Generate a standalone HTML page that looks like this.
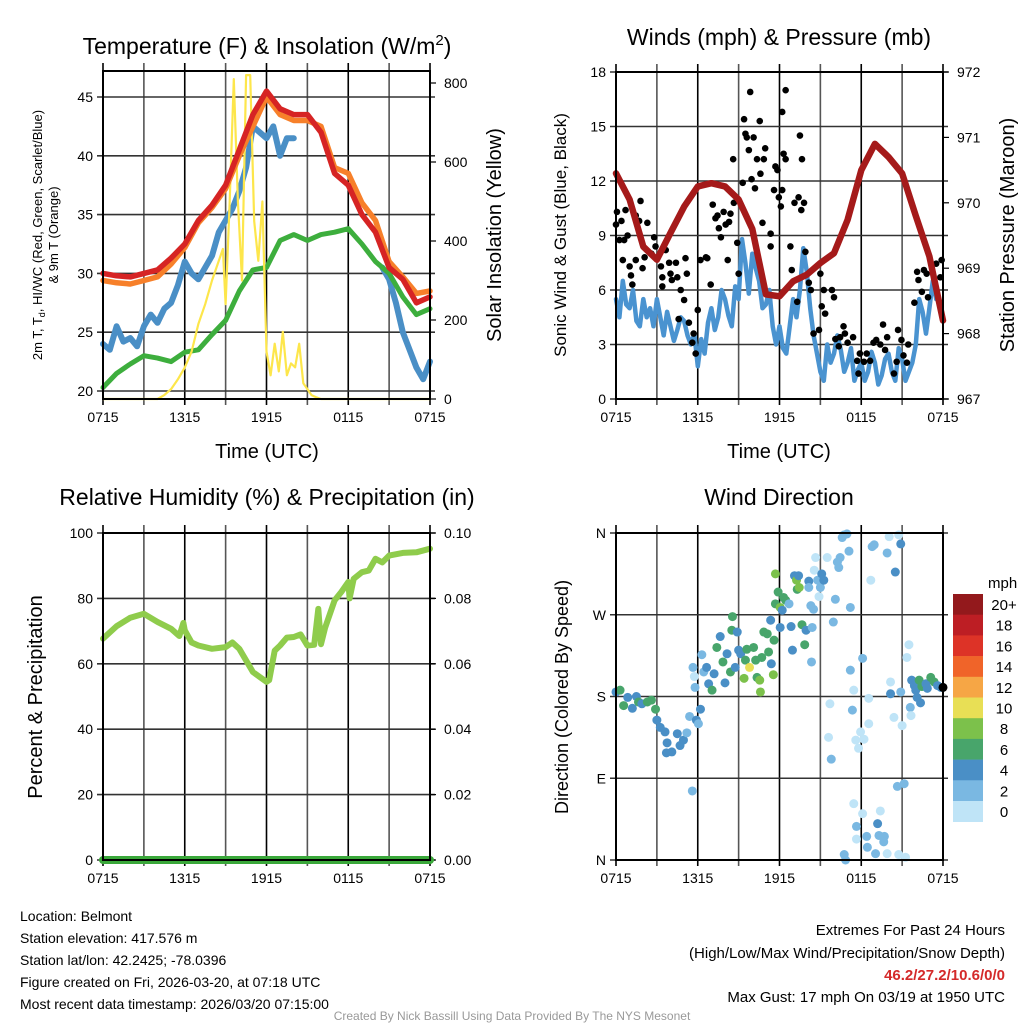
<!DOCTYPE html>
<html><head><meta charset="utf-8">
<style>
html,body{margin:0;padding:0;background:#fff;}
svg{display:block;font-family:"Liberation Sans",sans-serif;}
</style></head>
<body>
<svg id="svg" xmlns="http://www.w3.org/2000/svg" width="1024" height="1024" viewBox="0 0 1024 1024">
<rect width="1024" height="1024" fill="#fff"/>
<text x="267" y="54" font-size="23" text-anchor="middle">Temperature (F) &amp; Insolation (W/m<tspan dy="-9" font-size="15">2</tspan><tspan dy="9">)</tspan></text>
<text x="779" y="45" font-size="23" text-anchor="middle">Winds (mph) &amp; Pressure (mb)</text>
<text x="267" y="505" font-size="23" text-anchor="middle">Relative Humidity (%) &amp; Precipitation (in)</text>
<text x="779" y="505" font-size="23" text-anchor="middle">Wind Direction</text>

<text transform="translate(42,235) rotate(-90)" font-size="13" text-anchor="middle">2m T, T<tspan font-size="9" dy="3">d</tspan><tspan dy="-3">, HI/WC (Red, Green, Scarlet/Blue)</tspan></text>
<text transform="translate(58,235) rotate(-90)" font-size="13" text-anchor="middle">&amp; 9m T (Orange)</text>
<text transform="translate(501,235) rotate(-90)" font-size="20" text-anchor="middle">Solar Insolation (Yellow)</text>
<text x="267" y="458" font-size="20" text-anchor="middle">Time (UTC)</text>
<text x="779" y="458" font-size="20" text-anchor="middle">Time (UTC)</text>
<text transform="translate(566,235) rotate(-90)" font-size="17" text-anchor="middle">Sonic Wind &amp; Gust (Blue, Black)</text>
<text transform="translate(1014,235) rotate(-90)" font-size="20" text-anchor="middle">Station Pressure (Maroon)</text>
<text transform="translate(42,697) rotate(-90)" font-size="20" text-anchor="middle">Percent &amp; Precipitation</text>
<text transform="translate(568,697) rotate(-90)" font-size="18" text-anchor="middle">Direction (Colored By Speed)</text>

<g font-size="14">
<text x="20" y="921">Location: Belmont</text>
<text x="20" y="943">Station elevation: 417.576 m</text>
<text x="20" y="965">Station lat/lon: 42.2425; -78.0396</text>
<text x="20" y="987">Figure created on Fri, 2026-03-20, at 07:18 UTC</text>
<text x="20" y="1009">Most recent data timestamp: 2026/03/20 07:15:00</text>
</g>
<g font-size="15" text-anchor="end">
<text x="1005" y="935">Extremes For Past 24 Hours</text>
<text x="1005" y="958">(High/Low/Max Wind/Precipitation/Snow Depth)</text>
<text x="1005" y="980" font-weight="bold" fill="#d42a2a">46.2/27.2/10.6/0/0</text>
<text x="1005" y="1002">Max Gust: 17 mph On 03/19 at 1950 UTC</text>
</g>
<text x="512" y="1020" font-size="12" fill="#999" text-anchor="middle">Created By Nick Bassill Using Data Provided By The NYS Mesonet</text>
</svg>
<script>
// ---------- data ----------
const xTickLabels = ["0715","1315","1915","0115","0715"];
const hourly = [0,1,2,3,4,5,6,7,8,9,10,11,12,13,14,15,16,17,18,19,20,21,22,23,24];
const halfHours = [0,0.5,1,1.5,2,2.5,3,3.5,4,4.5,5,5.5,6,6.5,7,7.5,8,8.5,9,9.5,10,10.5,11,11.5,12,12.5,13,13.5,14,14.5,15,15.5,16,16.5,17,17.5,18,18.5,19,19.5,20,20.5,21,21.5,22,22.5,23,23.5,24];
const tempRed = [30.0,29.8,29.7,30.0,30.3,31.3,32.5,34.5,35.8,37.5,40.5,43.5,45.5,44.0,43.5,43.5,42.0,38.5,37.5,35.0,33.5,30.5,29.5,27.5,28.0];
const tempOrange = [29.4,29.2,29.1,29.4,29.7,30.8,32.2,34.3,35.6,37.2,40.0,42.5,45.0,43.5,43.0,43.0,42.5,39.0,38.5,36.0,34.5,31.0,29.7,28.3,28.5];
const dewBlue = [24,23.5,25.5,24.2,24.5,23.8,25.5,26.5,25.8,27,27.5,29,31,30,29.5,30.5,31.5,33.5,34.5,35.5,37,39,42.5,42,41.5,42.5,40,41.5,41.5,null,null,null,null,null,null,null,null,null,null,null,null,30.5,29.5,27.5,25,23.5,22,21,22.5];
const tempGreen = [20.3,21.5,22.3,23.0,22.8,22.5,23.3,23.5,24.8,26.0,28.5,30.3,30.5,32.8,33.3,32.8,33.3,33.5,33.8,32.5,31.0,30.0,28.0,26.5,27.0];
const solarHours = [0,4,4.5,5,5.5,6,6.5,7,7.5,8,8.8,9,9.3,9.6,9.9,10.2,10.5,10.8,11.1,11.4,11.7,12,12.3,12.6,12.9,13.2,13.5,13.8,14.1,14.4,14.7,15,15.3,15.6,16,24];
const solarVals = [0,0,10,25,50,80,120,190,240,300,380,240,500,810,500,300,820,820,450,350,500,120,60,140,70,170,60,90,80,140,40,25,10,5,0,0];
const windSust = [5.5,4.5,6.5,5.2,5.0,6.0,4.3,4.0,5.5,4.5,5.0,4.0,5.5,4.5,3.5,4.8,4.0,3.2,3.8,4.5,4.3,3.5,3.0,3.6,1.8,3.3,2.5,4.2,5.0,3.8,4.5,6.0,5.5,4.6,4.0,6.2,5.5,8.8,7.5,5.8,8.0,7.2,6.5,5.0,5.2,6.0,4.0,3.0,4.0,2.8,2.5,4.0,5.5,4.5,6.0,8.3,7.0,5.0,3.5,2.5,1.5,1.0,3.0,2.0,2.5,3.5,2.7,1.5,2.0,2.8,1.0,1.6,2.0,1.0,1.5,2.6,2.0,0.8,1.3,2.2,2.5,1.5,1.0,2.8,2.2,1.0,1.5,2.0,3.0,5.5,4.8,3.6,5.0,6.5,5.5,null,null];
const pressure = [970.45,970.05,969.33,969.13,969.54,969.94,970.25,970.3,970.25,970.05,969.6,968.6,968.57,968.8,968.9,969.08,969.23,969.74,970.5,970.9,970.7,970.45,969.8,969.18,968.2];
const gustHours = [0,0.07,0.7,0.4,0.25,0.6,0.85,1.45,1.8,1.7,2.3,0.5,1.0,1.1,1.2,1.45,1.95,2.1,2.6,2.8,2.9,3.3,3.4,3.4,3.65,3.9,4.0,4.1,4.4,4.5,4.75,5.0,5.1,5.2,4.6,5.35,5.7,5.6,5.85,6.0,6.2,6.6,6.7,6.95,7.1,7.3,7.45,7.55,7.7,7.9,8.05,8.2,8.3,8.4,8.65,8.6,8.9,9.0,9.3,9.4,9.5,9.6,9.75,9.85,9.95,10.1,10.2,10.35,10.55,10.6,10.75,10.85,10.95,11.35,11.35,11.6,11.7,11.85,11.95,12.1,12.2,12.2,12.3,12.45,12.45,12.8,12.9,13.1,13.3,13.4,13.5,13.6,13.65,13.8,13.9,14.15,14.3,14.5,14.9,15.0,15.1,15.25,15.35,15.85,16.0,16.1,16.35,16.45,16.7,16.8,17.0,17.4,17.7,17.8,17.9,18.2,18.4,18.65,18.9,19.1,19.4,19.6,19.75,19.9,20.4,20.6,20.7,20.95,21.1,21.35,21.45,21.9,22.1,22.2,22.45,22.6,22.8,22.9,23.5,23.8,23.9];
const gustVals = [9.6,10.3,10.4,9.8,8.75,8.75,9.0,10.1,10.9,9.8,9.7,7.65,7.3,6.8,6.3,7.65,7.2,7.8,8.0,8.9,8.4,7.3,6.7,6.2,8.2,7.5,6.9,6.55,7.5,6.7,6.0,5.45,7.75,6.9,4.4,4.2,3.6,3.1,2.5,4.9,7.65,7.8,7.75,6.3,10.7,9.95,10.1,9.4,8.9,10.3,9.6,7.65,9.75,10.2,10.8,13.2,8.6,6.9,11.9,15.4,14.6,14.4,13.7,16.9,12.1,14.4,11.6,13.2,15.3,12.4,9.7,13.2,13.8,9.1,8.4,11.5,12.8,12.6,11.1,10.6,11.5,15.8,13.5,17.0,13.2,8.4,7.1,10.8,5.35,11.1,14.5,10.4,13.2,10.8,8.1,6.4,6.0,3.6,3.8,6.9,5.1,6.0,4.7,6.0,5.6,3.3,2.9,3.4,4.0,3.6,3.1,3.4,2.1,1.4,2.5,2.05,2.5,2.1,3.1,3.25,3.0,4.1,2.7,3.4,1.4,2.05,3.8,3.25,2.4,2.0,3.0,5.3,7.0,6.55,5.9,7.1,6.9,5.6,7.45,6.7,7.65];
const rhHours = [0,1,2,3,4,5,5.6,5.9,6,6.5,7,8,9,9.5,10,11,11.5,12,12.2,12.6,13,13.5,14,14.5,15,15.5,15.8,16,16.3,17,17.5,18,18.1,18.4,19,19.5,20,20.5,21,22,23,24];
const rhVals = [67.7,71.5,74.1,75.3,72.8,70.7,68.5,72.5,70.2,66.5,65.6,64.6,65.1,66.5,64.6,57.5,56,54.5,55,64,65.6,68,68.2,69,65.6,65.8,76.8,66,71,79.4,82,85,80,86,88,88.5,92.1,91,93.1,93.9,94.1,95.2];
const precipVals = [0,0];
const precipHours = [0,24];
const dirHours = [0,0.3,0.56,0.86,1.2,1.5,1.65,1.9,2.3,2.6,2.9,3.0,3.25,3.6,3.75,3.7,4.1,4.5,4.7,4.95,5.2,5.4,5.6,5.9,6.2,6.05,5.65,5.75,5.8,6.3,6.44,6.65,6.8,7.05,7.2,7.4,7.65,7.85,8.0,8.15,8.4,8.5,8.55,8.75,8.9,9.0,9.15,9.4,9.5,9.6,9.8,10.1,10.25,10.35,10.55,10.6,10.7,10.85,11.1,11.2,11.35,11.4,11.6,11.55,11.7,11.7,11.9,12.05,12.05,12.2,12.3,12.45,12.7,12.85,12.95,13.1,13.25,13.4,13.3,13.45,13.65,13.85,13.95,14.15,14.15,14.3,14.4,14.5,14.35,14.65,14.55,14.8,15.0,14.9,15.1,15.25,15.5,15.7,15.6,15.8,15.95,16.1,16.25,16.35,16.45,16.6,16.75,16.95,17.1,17.2,17.2,17.35,17.45,17.45,17.6,17.8,17.95,18.1,18.1,18.2,18.55,18.55,18.7,18.8,18.95,17.65,17.65,18.4,18.45,16.75,16.85,19.05,19.2,19.4,19.3,19.7,19.65,19.9,20.15,20.15,19.9,20.05,20.4,20.5,20.75,20.9,20.9,21.0,20.65,21.15,20.75,21.25,21.35,21.5,21.6,21.65,21.7,21.9,22.0,22.1,22.35,22.25,22.45,22.75,22.85,23.1,23.35,23.6,23.85,24.0];
const dirDeg = [185,187,170,179,167,180,174,172,174,176,166,154,146,141,129,118,119,139,126,132,140,158,76,154,166,150,212,202,190,226,207,212,194,187,205,234,246,218,195,227,207,253,268,212,251,231,227,200,220,232,212,234,220,201,198,185,223,251,249,229,264,216,242,204,315,282,295,278,256,275,289,286,282,257,231,313,308,313,298,300,259,237,253,307,300,280,256,276,218,333,319,308,300,290,315,308,333,172,135,111,262,287,328,322,333,355,358,359,340,278,209,165,187,62,132,123,141,222,51,133,178,150,308,345,347,37,23,26,14,6,0,7,40,54,27,26,20,7,196,183,338,356,157,317,358,348,185,148,81,84,6,3,223,237,168,159,198,192,187,179,173,198,191,194,189,201,196,192,190,190];
const dirSpeed = [4,6,6,4,4,4,6,4,6,6,6,4,4,4,4,4,4,4,4,4,2,2,2,4,4,2,2,0.5,2,2,2,4,4,6,4,6,4,6,4,4,6,6,6,4,4,4,4,8,6,6,10,6,6,6,8,8,6,6,6,6,4,4,6,8,8,6,6,8,4,4,6,6,2,4,4,4,8,4,6,8,6,6,4,4,2,2,2,2,2,0.5,0.5,2,2,0.5,4,4,0.5,0.5,0.5,2,2,2,2,2,2,2,2,2,2,2,2,2,0.5,0.5,0.5,0.5,0.5,2,0.5,0.5,0.5,0.5,0.5,2,2,2,0.5,2,2,2,2,2,4,0.5,2,2,2,0.5,0.5,4,2,0.5,0.5,4,0.5,4,2,0.5,2,2,0.5,0.5,0.5,0.5,2,0.5,4,4,4,4,4,6,6,4,4,6,6,4,4];
const legendLabels = ["20+","18","16","14","12","10","8","6","4","2","0"];
const legendColors = ["#93191c","#bd1e24","#dd3327","#f06429","#f6a645","#e8df55","#7cc14b","#48a56b","#4a8fc6","#7ab8e2","#bfe4f7"];
const tempTicks = [20,25,30,35,40,45];
const solarTicks = [0,200,400,600,800];
const windTicks = [0,3,6,9,12,15,18];
const presTicks = [967,968,969,970,971,972];
const rhTicks = [0,20,40,60,80,100];
const precipTicks = ["0.00","0.02","0.04","0.06","0.08","0.10"];
const dirTicks = [0,90,180,270,360];
const dirTickLabels = ["N","E","S","W","N"];

const quarterHours = [];
for (let i=0;i<=96;i++) quarterHours.push(i*0.25);

// ---------- helpers ----------
const svg = document.getElementById('svg');
const NS = "http://www.w3.org/2000/svg";
function mk(tag, attrs, parent){
  const e = document.createElementNS(NS, tag);
  for (const k in attrs) e.setAttribute(k, attrs[k]);
  (parent||svg).appendChild(e);
  return e;
}
function lin(d0,d1,r0,r1){ return v => r0 + (v-d0)/(d1-d0)*(r1-r0); }

function panel(name, L, T, R, B){
  const g = mk('g', {});
  
  
  const x = lin(0,24,L,R);
  for (let h=0; h<=24; h+=3){
    const l = mk('line',{x1:x(h),x2:x(h),y1:T-8,y2:B+6,stroke:(h%6===0?'#000':'#555'),'stroke-width':1.6},g);
    
    
  }
  xTickLabels.forEach((t,i)=>{
    const tx = mk('text',{x:x(i*6),y:B+23,'font-size':14,'text-anchor':'middle'},g);
    tx.textContent = t;
    
    
  });
  return {g, x};
}
function hgrid(g, vals, y, L, R, labels, side){
  vals.forEach((v,i)=>{
    const yy = y(v);
    const l = mk('line',{x1:L-6,x2:R+5,y1:yy,y2:yy,stroke:'#333','stroke-width':1.6},g);
    
    
    const t = mk('text',{x:side==='left'?L-10:R+14,y:yy+5,'font-size':14,'text-anchor':side==='left'?'end':'start'},g);
    t.textContent = labels ? labels[i] : v;
    
    
  });
}
function rightTicks(g, vals, y, R, labels){
  vals.forEach((v,i)=>{
    const yy=y(v);
    mk('line',{x1:R,x2:R+6,y1:yy,y2:yy,stroke:'#000','stroke-width':1.2},g);
    const t = mk('text',{x:R+14,y:yy+5,'font-size':14},g);
    t.textContent = labels ? labels[i] : v;
    
    
  });
}
function line(g, xs, ys, x, y, color, w, name){
  let d='', pen=false;
  xs.forEach((h,i)=>{
    const v = ys[i];
    if (v===null || v===undefined){ pen=false; return; }
    d += (pen?'L':'M') + x(h).toFixed(1) + ',' + y(v).toFixed(1);
    pen=true;
  });
  const p = mk('path',{d:d,fill:'none',stroke:color,'stroke-width':w,'stroke-linejoin':'round','stroke-linecap':'round'},g);
  
  
  return p;
}
function frame(g,L,T,R,B){
  const f = mk('rect',{x:L,y:T,width:R-L,height:B-T,fill:'none',stroke:'#000','stroke-width':2},g);
  
  
}

// ---------- panel 1: temperature ----------
{
  const L=103,T=71,R=430,B=399;
  const p = panel('temperature-panel',L,T,R,B);
  const yT = lin(20,45,391,97);
  const yS = lin(0,800,399,83);
  hgrid(p.g, tempTicks, yT, L, R, null, 'left');
  rightTicks(p.g, solarTicks, yS, R, null);
  line(p.g, halfHours, dewBlue, p.x, yT, '#4a8fc6', 6, 'dewpoint-line');
  line(p.g, hourly, tempGreen, p.x, yT, '#3dae3d', 5, 'heat-index-line');
  line(p.g, solarHours, solarVals, p.x, yS, '#fde64b', 2.2, 'solar-line');
  line(p.g, hourly, tempOrange, p.x, yT, '#f7802a', 5.5, 'temp-9m-line');
  line(p.g, hourly, tempRed, p.x, yT, '#d62424', 5.5, 'temp-2m-line');
  frame(p.g,L,T,R,B);
}
// ---------- panel 2: winds ----------
{
  const L=616,T=72,R=943,B=399;
  const p = panel('wind-panel',L,T,R,B);
  const yW = lin(0,18,399,72);
  const yP = lin(967,972,399,72);
  hgrid(p.g, windTicks, yW, L, R, null, 'left');
  rightTicks(p.g, presTicks, yP, R, null);
  line(p.g, quarterHours, windSust, p.x, yW, '#4a93d0', 4.5, 'sustained-wind-line');
  gustHours.forEach((h,i)=>{
    const c = mk('circle',{cx:p.x(h),cy:yW(gustVals[i]),r:3.3,fill:'#000'},p.g);
    
    
  });
  line(p.g, hourly, pressure, p.x, yP, '#a51a1a', 6.5, 'pressure-line');
  frame(p.g,L,T,R,B);
}
// ---------- panel 3: RH ----------
{
  const L=103,T=533,R=430,B=860;
  const p = panel('rh-panel',L,T,R,B);
  const yR = lin(0,100,860,533);
  const yPr = lin(0,0.10,860,533);
  hgrid(p.g, rhTicks, yR, L, R, null, 'left');
  rightTicks(p.g, [0,0.02,0.04,0.06,0.08,0.10], yPr, R, precipTicks);
  line(p.g, rhHours, rhVals, p.x, yR, '#8fcc4c', 6, 'rh-line');
  line(p.g, precipHours, precipVals, p.x, yPr, '#3aa83a', 8, 'precip-line');
  frame(p.g,L,T,R,B);
}
// ---------- panel 4: direction ----------
{
  const L=616,T=533,R=943,B=860;
  const p = panel('direction-panel',L,T,R,B);
  const yD = lin(0,360,860,533);
  hgrid(p.g, dirTicks, yD, L, R, dirTickLabels, 'left');
  dirHours.forEach((h,i)=>{
    const idx = Math.min(10, Math.round(dirSpeed[i]/2));
    const c = mk('circle',{cx:p.x(h),cy:yD(dirDeg[i]),r:4.5,fill:legendColors[10-idx]},p.g);
    
    
  });
  frame(p.g,L,T,R,B);
  const lg = mk('g',{});
  
  
  const mt = mk('text',{x:988,y:588,'font-size':15},lg);
  mt.textContent='mph';
  legendLabels.forEach((lab,i)=>{
    const r = mk('rect',{x:953,y:594+i*20.7,width:30,height:21,fill:legendColors[i]},lg);
    
    
    const t = mk('text',{x:1004,y:594+i*20.7+16,'font-size':15,'text-anchor':'middle'},lg);
    t.textContent = lab;
    
    
  });
}
</script>
</body></html>
